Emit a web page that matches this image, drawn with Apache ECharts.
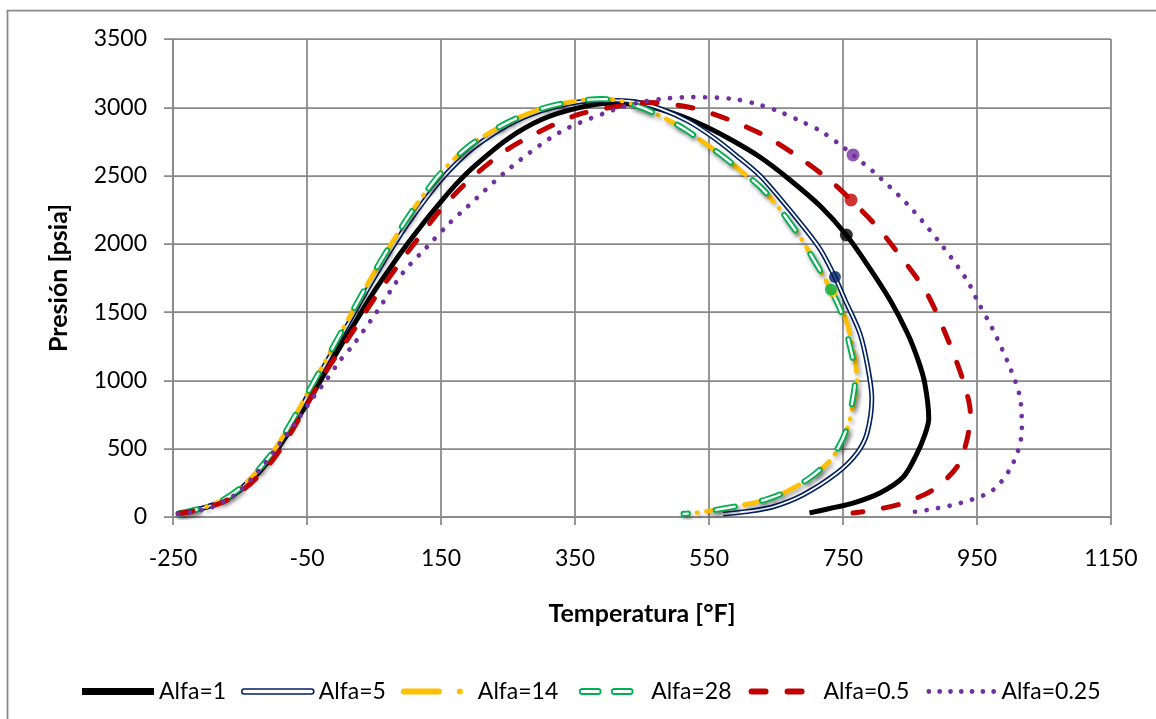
<!DOCTYPE html>
<html>
<head>
<meta charset="utf-8">
<script src="https://cdn.jsdelivr.net/npm/echarts@6/dist/echarts.min.js"></script>
<style>
html,body{margin:0;padding:0;background:#fff;}
#c{width:1156px;height:719px;}
</style>
</head>
<body>
<div id="c"></div>
<script>
// ---------- axis ranges ----------
const xMin = -250, xMax = 1150, xStep = 200;
const yMin = 0, yMax = 3500, yStep = 500;

// ---------- series names ----------
const names = ['Alfa=1', 'Alfa=5', 'Alfa=14', 'Alfa=28', 'Alfa=0.5', 'Alfa=0.25'];

// ---------- series values [Temperatura °F, Presión psia] ----------
const alfa1 = [[-242,25],[-225,40],[-200,72],[-175,118],[-150,195],[-125,310],[-100,455],[-80,600],[-50,830],[-25,1040],[0,1250],[25,1450],[50,1650],[75,1830],[100,2000],[125,2160],[150,2310],[175,2450],[200,2570],[250,2770],[300,2910],[350,2990],[400,3030],[440,3020],[481,2980],[537,2878],[581,2768],[626,2636],[671,2468],[716,2277],[755,2065],[788,1835],[820,1590],[846,1347],[862,1150],[872,980],[878,720],[872,600],[860,460],[840,293],[805,176],[765,102],[730,62],[700,30]];

const alfa5 = [[-242,25],[-225,41],[-200,74],[-175,122],[-150,203],[-125,322],[-100,470],[-75,665],[-50,880],[-25,1100],[0,1315],[25,1535],[50,1750],[75,1955],[100,2145],[125,2315],[150,2470],[175,2600],[200,2710],[250,2870],[300,2975],[350,3035],[400,3052],[440,3040],[480,2985],[520,2895],[556,2780],[590,2650],[626,2500],[660,2310],[690,2130],[716,1960],[738,1757],[753,1589],[775,1347],[787,1098],[793,871],[786,615],[771,469],[741,322],[690,161],[646,75],[610,42],[571,22]];

const alfa14 = [[-242,25],[-225,42],[-200,76],[-175,126],[-150,210],[-125,332],[-100,482],[-75,680],[-50,900],[-25,1120],[0,1345],[25,1570],[50,1790],[75,1995],[100,2190],[125,2365],[150,2520],[175,2645],[200,2745],[250,2890],[300,2990],[350,3045],[390,3060],[420,3045],[451,2995],[480,2930],[511,2848],[540,2750],[571,2640],[600,2525],[626,2420],[650,2290],[670,2160],[690,2020],[705,1895],[720,1770],[733,1655],[747,1530],[756,1420],[762,1300],[768,1150],[771,1000],[765,820],[756,640],[744,510],[728,400],[700,285],[665,185],[635,128],[601,88],[560,52],[532,32]];

const alfa28 = [[-242,25],[-225,42],[-200,76],[-175,126],[-150,210],[-125,332],[-100,482],[-75,680],[-50,900],[-25,1120],[0,1345],[25,1570],[50,1790],[75,1995],[100,2190],[125,2365],[150,2520],[175,2645],[200,2745],[250,2890],[300,2990],[350,3045],[390,3060],[420,3045],[451,2995],[480,2930],[511,2848],[540,2750],[571,2640],[600,2525],[626,2420],[650,2290],[670,2160],[690,2020],[705,1895],[720,1770],[732,1665],[745,1530],[753,1420],[758,1300],[765,1150],[768,1000],[763,820],[755,640],[743,510],[727,400],[700,285],[665,185],[635,128],[601,88],[560,52],[532,30],[512,23]];

const alfa05 = [[-242,25],[-225,38],[-200,68],[-175,110],[-150,182],[-125,288],[-100,425],[-75,610],[-50,825],[-20,1080],[10,1296],[49,1589],[84,1831],[114,2028],[153,2270],[195,2480],[248,2687],[293,2812],[353,2944],[407,3002],[460,3035],[526,2995],[581,2907],[637,2782],[690,2614],[735,2446],[762,2321],[801,2124],[840,1882],[875,1640],[905,1318],[929,1003],[940,761],[935,564],[920,366],[884,198],[840,102],[800,55],[765,29]];

const alfa025 = [[-242,22],[-220,38],[-190,75],[-155,172],[-120,350],[-90,540],[-60,740],[-40,880],[-20,1010],[0,1150],[19,1260],[54,1501],[93,1787],[129,1977],[163,2153],[189,2270],[253,2555],[328,2819],[407,2980],[451,3040],[490,3066],[522,3075],[586,3061],[626,3017],[656,2966],[686,2900],[716,2828],[746,2725],[765,2651],[801,2504],[850,2270],[895,2006],[935,1735],[950,1589],[974,1369],[999,1098],[1014,879],[1017,637],[1004,395],[974,198],[925,102],[875,51],[842,29]];

// ---------- critical points ----------
const crit1 = [[755,2065]];
const crit5 = [[738,1757]];
const crit14 = [[734,1652]];
const crit28 = [[732,1665]];
const crit05 = [[762,2321]];
const crit025 = [[765,2651]];

// ---------- colours ----------
const cBlack = '#000000', cNavy = '#002060', cYellow = '#FFC000', cGreen = '#00B050', cRed = '#C00000', cPurple = '#7030A0';
const gridGray = '#898989';
const FONT = 'Lato';

function line(name, data, ls, extra) {
  return Object.assign({
    name: name, type: 'line', data: data, smooth: 0.3, showSymbol: false, symbol: 'none',
    lineStyle: ls, silent: true, animation: false, emphasis: {disabled: true}
  }, extra || {});
}
function crit(name, data, color, size) {
  return {name: name, type: 'scatter', data: data, symbol: 'circle', symbolSize: size,
    itemStyle: {color: color}, silent: true, animation: false, z: 5, emphasis: {disabled: true}};
}
const shadow = {shadowColor: 'rgba(0,0,0,0.35)', shadowBlur: 4, shadowOffsetX: 2, shadowOffsetY: 3};
const box = ' M0,0L0,0 M72,7L72,7';
const plain = function (v) { return String(v); };

const option = {
  animation: false,
  backgroundColor: '#fff',
  grid: {left: 173, right: 45, top: 39, bottom: 202, containLabel: false, outerBoundsMode: 'none'},
  xAxis: {
    type: 'value', min: xMin, max: xMax, interval: xStep,
    name: 'Temperatura [°F]', nameLocation: 'middle', nameGap: 84,
    nameTextStyle: {fontFamily: FONT, fontWeight: 'bold', fontSize: 25, color: '#000'},
    axisLine: {show: true, onZero: false, lineStyle: {color: gridGray, width: 1.75}},
    axisTick: {show: true, length: 8, lineStyle: {color: gridGray, width: 1.75}},
    axisLabel: {fontFamily: FONT, fontSize: 23, color: '#000', margin: 30, formatter: plain},
    splitLine: {show: true, lineStyle: {color: gridGray, width: 1.75}}
  },
  yAxis: {
    type: 'value', min: yMin, max: yMax, interval: yStep,
    name: 'Presión [psia]', nameLocation: 'middle', nameGap: 102, nameRotate: 90,
    nameTextStyle: {fontFamily: FONT, fontWeight: 'bold', fontSize: 25, color: '#000'},
    axisLine: {show: true, onZero: false, lineStyle: {color: gridGray, width: 1.75}},
    axisTick: {show: true, length: 9, lineStyle: {color: gridGray, width: 1.75}},
    axisLabel: {fontFamily: FONT, fontSize: 23, color: '#000', margin: 26, formatter: plain},
    splitLine: {show: true, lineStyle: {color: gridGray, width: 1.75}}
  },
  legend: {
    left: 82, top: 680, padding: 0, itemWidth: 72, itemHeight: 7, itemGap: 15,
    symbolKeepAspect: false, selectedMode: false,
    textStyle: {fontFamily: FONT, fontSize: 23, color: '#000'},
    data: [
      {name: names[0], icon: 'path://M0,0H72V7H0Z' + box, itemStyle: {color: cBlack, borderWidth: 0}},
      {name: names[1], icon: 'path://M2.5,1H69.5A2.5,2.5 0 0 1 69.5,6H2.5A2.5,2.5 0 0 1 2.5,1Z' + box, itemStyle: {color: '#fff', borderColor: cNavy, borderWidth: 1.5}},
      {name: names[2], icon: 'path://M3,0.5H38A3,3 0 0 1 38,6.5H3A3,3 0 0 1 3,0.5Z M56,3.5A3,3 0 1 1 62,3.5A3,3 0 1 1 56,3.5Z' + box, itemStyle: {color: cYellow, borderWidth: 0}},
      {name: names[3], icon: 'path://M8,1H24A2.5,2.5 0 0 1 24,6H8A2.5,2.5 0 0 1 8,1Z M40,1H56A2.5,2.5 0 0 1 56,6H40A2.5,2.5 0 0 1 40,1Z' + box, itemStyle: {color: '#fff', borderColor: cGreen, borderWidth: 1.8}},
      {name: names[4], icon: 'path://M5,0.5H19A3,3 0 0 1 19,6.5H5A3,3 0 0 1 5,0.5Z M41,0.5H55A3,3 0 0 1 55,6.5H41A3,3 0 0 1 41,0.5Z' + box, itemStyle: {color: cRed, borderWidth: 0}},
      {name: names[5], icon: 'path://' + [4.5,15.3,26.1,36.9,47.7,58.5,69.3].map(function (c) { return 'M' + (c - 2.4) + ',3.5A2.4,2.4 0 1 1 ' + (c + 2.4) + ',3.5A2.4,2.4 0 1 1 ' + (c - 2.4) + ',3.5Z'; }).join(' ') + box, itemStyle: {color: cPurple, borderWidth: 0}}
    ]
  },
  graphic: [{
    type: 'rect', silent: true, z: -10,
    shape: {x: 7.5, y: 10.5, width: 1170, height: 730},
    style: {fill: 'none', stroke: gridGray, lineWidth: 1.75}
  }],
  series: [
    line(names[0], alfa1, {color: cBlack, width: 5}),
    line(names[1], alfa5, {color: cNavy, width: 5}),
    line('Alfa=5 inner', alfa5, {color: '#ffffff', width: 1.8}),
    line(names[2], alfa14, Object.assign({color: cYellow, width: 4.5, type: [20, 9, 0.5, 9], cap: 'round'}, shadow)),
    line(names[3], alfa28, Object.assign({color: cGreen, width: 6, type: [19, 28], cap: 'round'}, shadow)),
    line('Alfa=28 inner', alfa28, {color: '#ffffff', width: 2.4, type: [19, 28], cap: 'round'}),
    line(names[4], alfa05, {color: cRed, width: 5, type: [15, 21], cap: 'round'}),
    line(names[5], alfa025, {color: cPurple, width: 4.7, type: [0.1, 11.6], cap: 'round'}),
    crit('c14', crit14, cYellow, 12),
    crit('c28', crit28, cGreen, 12),
    crit('c5', crit5, cNavy, 12),
    crit('c1', crit1, cBlack, 13),
    crit('c05', crit05, cRed, 13),
    crit('c025', crit025, cPurple, 13)
  ]
};

const chart = echarts.init(document.getElementById('c'), null, {renderer: 'canvas'});
chart.setOption(option);
</script>
</body>
</html>
